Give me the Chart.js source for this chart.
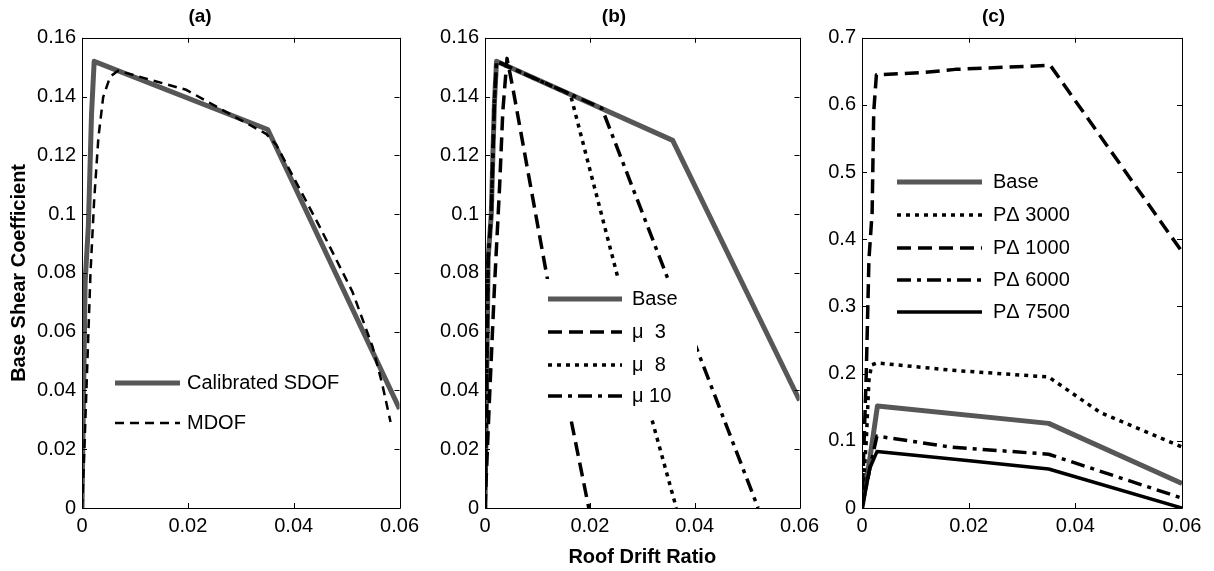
<!DOCTYPE html>
<html>
<head>
<meta charset="utf-8">
<script src="https://cdn.jsdelivr.net/npm/chart.js@4.4.0/dist/chart.umd.min.js"></script>
<style>
  body { margin: 0; background: #fff; }
  #wrap { position: relative; width: 1214px; height: 571px; overflow: hidden; }
  .panel { position: absolute; top: 0; height: 571px; }
</style>
</head>
<body>
<div id="wrap">
  <div class="panel" style="left:0px;width:425px"><canvas id="chartA" width="425" height="571"></canvas></div>
  <div class="panel" style="left:425px;width:400px"><canvas id="chartB" width="400" height="571"></canvas></div>
  <div class="panel" style="left:805px;width:409px"><canvas id="chartC" width="409" height="571"></canvas></div>
</div>
<script>
// ---- data ----
// (a) calibration
var sdofX = [0, 0.0003, 0.0006, 0.0012, 0.0015, 0.0018, 0.0023, 0.0351, 0.036, 0.06];
var sdofY = [0, 0.04, 0.077, 0.096, 0.115, 0.134, 0.152, 0.1288, 0.1254, 0.0337];
var mdofX = [0, 0.0004, 0.001, 0.0016, 0.0023, 0.0031, 0.004, 0.0053, 0.0068, 0.0159, 0.0197, 0.0285, 0.0348, 0.0367, 0.0448, 0.0511, 0.0549, 0.0567, 0.0583];
var mdofY = [0, 0.0175, 0.0487, 0.0799, 0.1048, 0.1261, 0.1398, 0.1467, 0.1488, 0.1442, 0.1423, 0.1335, 0.1273, 0.1236, 0.0961, 0.0736, 0.0549, 0.0424, 0.0293];

// (b) ductility
var baseBX = [0, 0.0003, 0.0006, 0.0012, 0.0015, 0.0018, 0.0022, 0.0358, 0.06];
var baseBY = [0, 0.04, 0.085, 0.1, 0.12, 0.138, 0.152, 0.1251, 0.0366];
var mu3X = [0, 0.0008, 0.0018, 0.0028, 0.0034, 0.0042, 0.0053, 0.0119, 0.0163, 0.0198];
var mu3Y = [0, 0.035, 0.075, 0.11, 0.135, 0.153, 0.143, 0.078, 0.031, 0];
var mu8X = [0, 0.0003, 0.0006, 0.0012, 0.0015, 0.0018, 0.0022, 0.0163, 0.0254, 0.0317, 0.0365];
var mu8Y = [0, 0.04, 0.085, 0.1, 0.12, 0.138, 0.152, 0.1407, 0.078, 0.031, 0];
var mu10X = [0, 0.0003, 0.0006, 0.0012, 0.0015, 0.0018, 0.0022, 0.0223, 0.0348, 0.0399, 0.0521];
var mu10Y = [0, 0.04, 0.085, 0.1, 0.12, 0.138, 0.152, 0.136, 0.0784, 0.0565, 0];

// (c) P-delta
var baseCX = [0, 0.0015, 0.0025, 0.0029, 0.035, 0.06];
var baseCY = [0, 0.075, 0.13, 0.152, 0.126, 0.0364];
var pd3000X = [0, 0.0008, 0.0013, 0.0018, 0.0028, 0.0169, 0.035, 0.0447, 0.06];
var pd3000Y = [0, 0.1, 0.19, 0.213, 0.216, 0.205, 0.195, 0.142, 0.0908];
var pd1000X = [0, 0.0008, 0.0013, 0.0019, 0.0022, 0.0027, 0.011, 0.0175, 0.0353, 0.06];
var pd1000Y = [0, 0.2, 0.37, 0.44, 0.59, 0.645, 0.648, 0.653, 0.659, 0.3815];
var pd6000X = [0, 0.0015, 0.0028, 0.0166, 0.035, 0.06];
var pd6000Y = [0, 0.06, 0.107, 0.0908, 0.08, 0.0147];
var pd7500X = [0, 0.0015, 0.0028, 0.0197, 0.035, 0.06];
var pd7500Y = [0, 0.06, 0.084, 0.0707, 0.058, 0];

var GRAY = '#575757';
var FONT = '"Liberation Sans", Arial, Helvetica, sans-serif';
Chart.defaults.font.family = FONT;
Chart.defaults.color = '#000';

function pts(xs, ys) {
  return xs.map(function (x, i) { return { x: x, y: ys[i] }; });
}

function fmt(v) { return String(+Number(v).toFixed(2)); }

// legend drawn inside the axes, MATLAB style (white background, no frame)
var boxLegend = {
  id: 'boxLegend',
  afterDatasetsDraw: function (chart, args, opts) {
    var ctx = chart.ctx;
    ctx.save();
    if (opts.box) {
      ctx.fillStyle = '#fff';
      ctx.fillRect(opts.box[0], opts.box[1], opts.box[2] - opts.box[0], opts.box[3] - opts.box[1]);
    }
    chart.data.datasets.forEach(function (ds, i) {
      var y = opts.rows[i];
      ctx.beginPath();
      ctx.setLineDash(ds.borderDash || []);
      ctx.lineWidth = ds.borderWidth;
      ctx.strokeStyle = ds.borderColor;
      ctx.moveTo(opts.x0, y);
      ctx.lineTo(opts.x1, y);
      ctx.stroke();
      ctx.setLineDash([]);
      ctx.fillStyle = '#000';
      ctx.font = '20px ' + FONT;
      ctx.textBaseline = 'middle';
      ctx.textAlign = 'left';
      ctx.fillText(ds.label, opts.textX, y);
    });
    ctx.restore();
  }
};

// box around the axes with inward tick marks
var frameTicks = {
  id: 'frameTicks',
  afterDatasetsDraw: function (chart) {
    var a = chart.chartArea, ctx = chart.ctx;
    var sx = chart.scales.x, sy = chart.scales.y;
    ctx.save();
    ctx.strokeStyle = '#000';
    ctx.lineWidth = 1;
    ctx.beginPath();
    ctx.rect(Math.round(a.left) + 0.5, Math.round(a.top) + 0.5, Math.round(a.right - a.left), Math.round(a.bottom - a.top));
    sx.ticks.forEach(function (t) {
      var px = Math.round(sx.getPixelForValue(t.value)) + 0.5;
      ctx.moveTo(px, a.bottom); ctx.lineTo(px, a.bottom - 5);
      ctx.moveTo(px, a.top); ctx.lineTo(px, a.top + 5);
    });
    sy.ticks.forEach(function (t) {
      var py = Math.round(sy.getPixelForValue(t.value)) + 0.5;
      ctx.moveTo(a.left, py); ctx.lineTo(a.left + 5, py);
      ctx.moveTo(a.right, py); ctx.lineTo(a.right - 5, py);
    });
    ctx.stroke();
    ctx.restore();
  }
};

function line(label, xs, ys, color, width, dash, order) {
  return {
    label: label,
    data: pts(xs, ys),
    borderColor: color,
    borderWidth: width,
    borderDash: dash,
    borderJoinStyle: 'round',
    pointRadius: 0,
    tension: 0,
    fill: false,
    order: order
  };
}

function makePanel(id, p) {
  return new Chart(document.getElementById(id), {
    type: 'line',
    data: { datasets: p.datasets },
    options: {
      responsive: false,
      animation: false,
      events: [],
      layout: { padding: { left: 0, right: p.padRight, top: 0, bottom: 0 } },
      plugins: {
        legend: { display: false },
        tooltip: { enabled: false },
        title: {
          display: true,
          text: p.title,
          color: '#000',
          font: { size: 19, weight: 'bold' },
          padding: { top: 5, bottom: 10 }
        },
        boxLegend: p.legend
      },
      scales: {
        x: {
          type: 'linear',
          min: 0,
          max: 0.06,
          grid: { display: false, drawTicks: false },
          border: { display: false },
          ticks: { stepSize: 0.02, padding: 6, maxRotation: 0, font: { size: 20 }, color: '#000', callback: fmt },
          title: {
            display: !!p.xTitle,
            text: p.xTitle || '',
            color: '#000',
            font: { size: 20, weight: 'bold' },
            padding: { top: 0, bottom: 2 }
          },
          afterFit: function (s) { s.height = 63; }
        },
        y: {
          type: 'linear',
          min: 0,
          max: p.yMax,
          grid: { display: false, drawTicks: false },
          border: { display: false },
          ticks: { stepSize: p.yStep, padding: 6, font: { size: 20 }, color: '#000', callback: fmt },
          title: {
            display: !!p.yTitle,
            text: p.yTitle || '',
            color: '#000',
            font: { size: 20, weight: 'bold' },
            padding: { top: 7, bottom: 0 }
          },
          afterFit: function (s) { s.width = p.yWidth; }
        }
      }
    },
    plugins: [boxLegend, frameTicks]
  });
}

makePanel('chartA', {
  title: '(a)',
  yTitle: 'Base Shear Coefficient',
  yMax: 0.16, yStep: 0.02,
  yWidth: 82, padRight: 25,
  legend: { x0: 115, x1: 180, textX: 187, rows: [383, 423] },
  datasets: [
    line('Calibrated SDOF', sdofX, sdofY, GRAY, 5, [], 1),
    line('MDOF', mdofX, mdofY, '#000', 2.5, [9, 6], 0)
  ]
});

makePanel('chartB', {
  title: '(b)',
  xTitle: 'Roof Drift Ratio',
  yMax: 0.16, yStep: 0.02,
  yWidth: 60, padRight: 22,
  legend: { x0: 123, x1: 197, textX: 207, rows: [299, 332, 365, 396], box: [118, 279, 272, 416] },
  datasets: [
    line('Base', baseBX, baseBY, GRAY, 5, [], 1),
    line('\u03bc  3', mu3X, mu3Y, '#000', 3.5, [14, 7], 0),
    line('\u03bc  8', mu8X, mu8Y, '#000', 3.5, [4, 5], 0),
    line('\u03bc 10', mu10X, mu10Y, '#000', 3.5, [14, 6, 4, 6], 0)
  ]
});

makePanel('chartC', {
  title: '(c)',
  yMax: 0.7, yStep: 0.1,
  yWidth: 57, padRight: 32,
  legend: { x0: 92, x1: 177, textX: 188, rows: [182, 215, 248, 280, 312] },
  datasets: [
    line('Base', baseCX, baseCY, GRAY, 5, [], 1),
    line('P\u0394 3000', pd3000X, pd3000Y, '#000', 3.5, [4, 5], 0),
    line('P\u0394 1000', pd1000X, pd1000Y, '#000', 3.5, [14, 7], 0),
    line('P\u0394 6000', pd6000X, pd6000Y, '#000', 3.5, [14, 6, 4, 6], 0),
    line('P\u0394 7500', pd7500X, pd7500Y, '#000', 3.5, [], 0)
  ]
});
</script>
</body>
</html>
